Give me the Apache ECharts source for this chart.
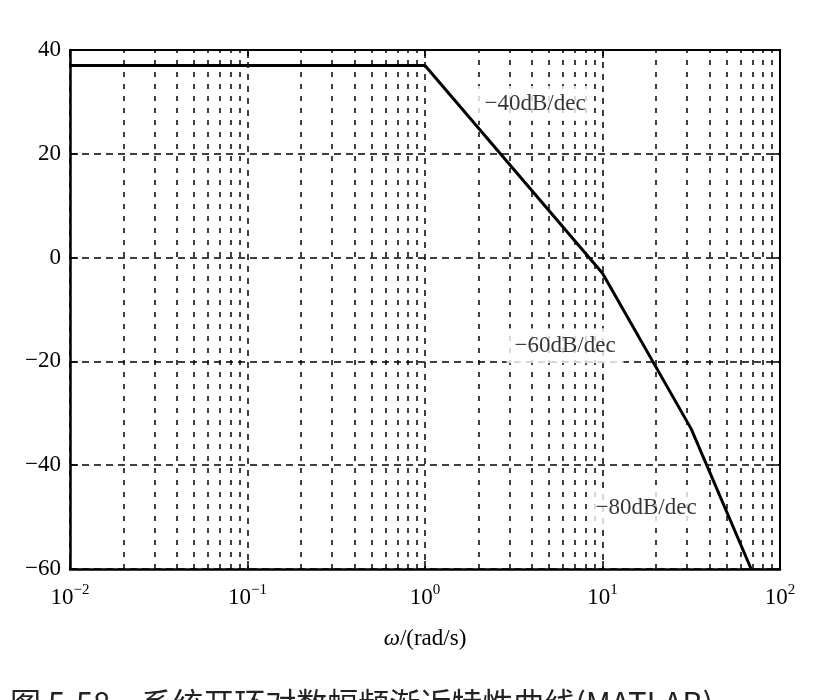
<!DOCTYPE html>
<html>
<head>
<meta charset="utf-8">
<script src="https://cdn.jsdelivr.net/npm/echarts@6/dist/echarts.min.js"></script>
<style>
  html, body { margin: 0; padding: 0; background: #fff; }
  #bode_con { width: 830px; height: 700px; }
</style>
</head>
<body>
<div id="bode_con"></div>
<script>
  // asymptotic magnitude curve, [omega, dB]
  var breakFreqs = [0.01, 1, 10, 31.6, 68.8];
  var magnitudes = [37, 37, -3, -33, -60];
  // slope annotations, placed in data coordinates
  var noteFreqs = [4.17, 6.15, 17.6];
  var noteMags = [29.7, -17, -48.3];
  var noteTexts = ['\u221240dB/dec', '\u221260dB/dec', '\u221280dB/dec'];
  var yTicks = [40, 20, 0, -20, -40, -60];
  var decades = [0.01, 0.1, 1, 10];
  var minorSteps = [2, 3, 4, 5, 6, 7, 8, 9];
  var caption = '\u56fe 5-58\u3000\u7cfb\u7edf\u5f00\u73af\u5bf9\u6570\u5e45\u9891\u6e10\u8fd1\u7279\u6027\u66f2\u7ebf(MATLAB)';

  var ink = '#000';
  var serif = '"Liberation Serif", "DejaVu Serif", serif';

  var curve = breakFreqs.map(function (w, i) { return [w, magnitudes[i]]; });
  var notes = noteFreqs.map(function (w, i) { return [w, noteMags[i], noteTexts[i]]; });
  var minorLines = [];
  decades.forEach(function (d) {
    minorSteps.forEach(function (m) {
      minorLines.push({ xAxis: +(d * m).toPrecision(3) });
    });
  });

  var chart = echarts.init(document.getElementById('bode_con'));
  var option = {
    backgroundColor: '#fff',
    animation: false,
    grid: { left: 70, right: 50, top: 50, bottom: 131 },
    xAxis: [{
      type: 'log',
      logBase: 10,
      min: 0.01,
      max: 100,
      name: '{it|\u03c9}/(rad/s)',
      nameLocation: 'middle',
      nameGap: 58,
      nameTextStyle: {
        color: ink, fontFamily: serif, fontSize: 23,
        rich: { it: { fontStyle: 'italic', fontFamily: serif, fontSize: 23, color: ink } }
      },
      axisLine: { onZero: false, lineStyle: { color: ink, width: 2.5 } },
      axisTick: { inside: true, length: 8, lineStyle: { color: ink, width: 1.5 } },
      axisLabel: {
        margin: 14,
        color: ink,
        fontFamily: serif,
        fontSize: 23,
        formatter: function (v) {
          var e = Math.round(Math.log10(v));
          return '10{sup|' + (e < 0 ? '\u2212' + (-e) : e) + '}';
        },
        rich: {
          sup: { fontFamily: serif, fontSize: 15, color: ink, padding: [0, 0, 15, 0] }
        }
      },
      splitLine: { show: true, lineStyle: { color: ink, width: 1.5, type: [6, 6] } }
    }, {
      type: 'log',
      logBase: 10,
      min: 0.01,
      max: 100,
      position: 'top',
      axisLine: { onZero: false, lineStyle: { color: ink, width: 2 } },
      axisTick: { inside: true, length: 8, lineStyle: { color: ink, width: 1.5 } },
      axisLabel: { show: false },
      splitLine: { show: false }
    }],
    yAxis: [{
      type: 'value',
      min: -60,
      max: 40,
      interval: 20,
      axisLine: { show: true, onZero: false, lineStyle: { color: ink, width: 2.5 } },
      axisTick: { show: true, inside: true, length: 8, lineStyle: { color: ink, width: 1.5 } },
      axisLabel: {
        margin: 9,
        color: ink,
        fontFamily: serif,
        fontSize: 23,
        formatter: function (v) { return yTicks.indexOf(v) < 0 ? '' : String(v).replace('-', '\u2212'); }
      },
      splitLine: { show: true, lineStyle: { color: ink, width: 1.5, type: [7, 5] } }
    }, {
      type: 'value',
      min: -60,
      max: 40,
      interval: 20,
      position: 'right',
      axisLine: { show: true, onZero: false, lineStyle: { color: ink, width: 2 } },
      axisTick: { show: true, inside: true, length: 8, lineStyle: { color: ink, width: 1.5 } },
      axisLabel: { show: false },
      splitLine: { show: false }
    }],
    series: [{
      type: 'line',
      data: curve,
      symbol: 'none',
      z: 5,
      lineStyle: { color: ink, width: 3 },
      markLine: {
        silent: true,
        symbol: 'none',
        label: { show: false },
        lineStyle: { color: ink, width: 1.5, type: [5, 7] },
        data: minorLines
      }
    }, {
      type: 'scatter',
      data: notes,
      symbolSize: 0,
      z: 10,
      label: {
        show: true,
        position: 'inside',
        formatter: function (p) { return p.data[2]; },
        color: ink,
        fontFamily: serif,
        fontSize: 23,
        backgroundColor: '#fff',
        padding: [6, 8]
      }
    }],
    graphic: [{
      type: 'text',
      left: 10,
      top: 688,
      style: {
        text: caption,
        font: '31px "Noto Sans CJK SC", sans-serif',
        fill: '#222'
      }
    }]
  };
  chart.setOption(option);
</script>
</body>
</html>
